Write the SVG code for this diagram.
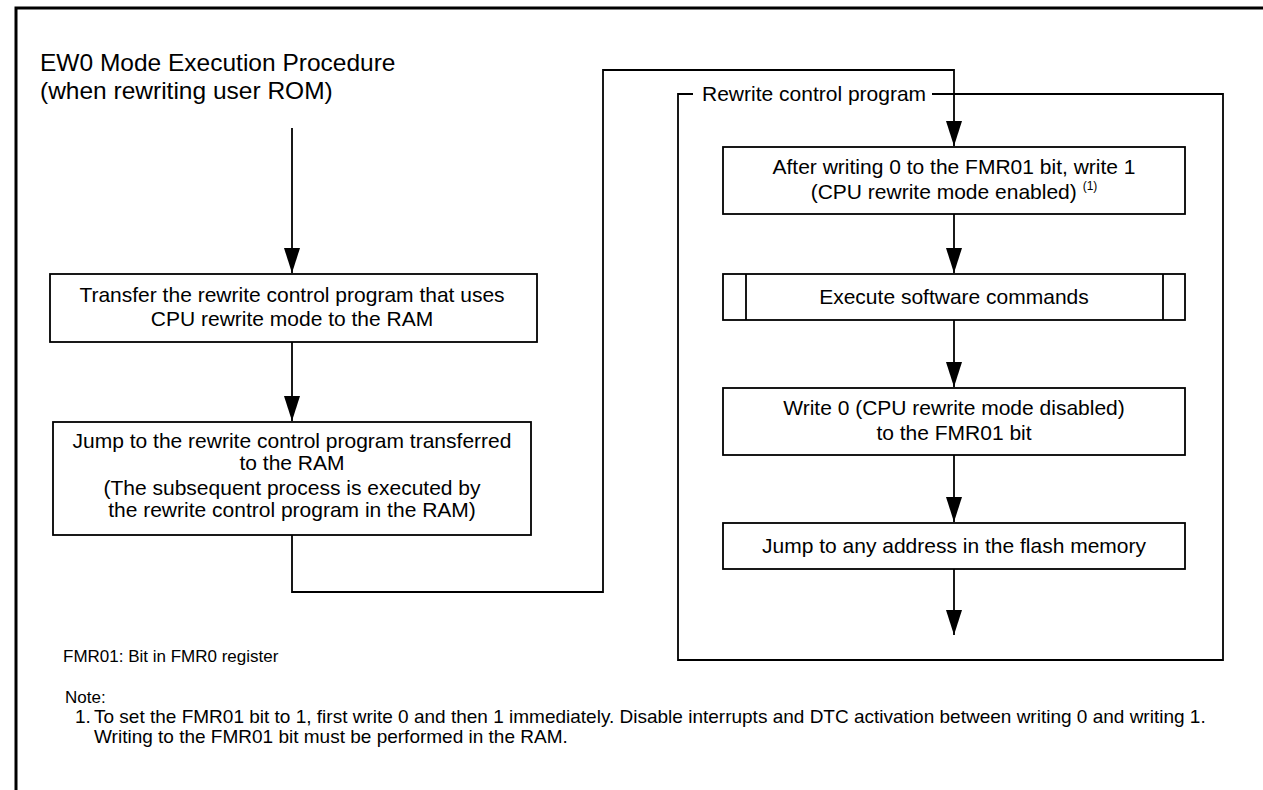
<svg xmlns="http://www.w3.org/2000/svg" width="1263" height="790" viewBox="0 0 1263 790">
<defs>
<marker id="ah" markerUnits="userSpaceOnUse" markerWidth="25" markerHeight="16" refX="25" refY="8" orient="auto" viewBox="0 0 25 16">
<path d="M0,0 L25,8 L0,16 Z" fill="#000"/>
</marker>
</defs>
<style>
text{font-family:"Liberation Sans",Arial,sans-serif;fill:#000}
.box{fill:#fff;stroke:#000;stroke-width:1.8}
.ln{fill:none;stroke:#000;stroke-width:1.8}
.t{font-size:21px;text-anchor:middle}
.n{font-size:17px}
.m{font-size:19px}
</style>
<path d="M16,790 V8 H1263" fill="none" stroke="#000" stroke-width="3"/>
<text x="40" y="71" style="font-size:24.5px">EW0 Mode Execution Procedure</text>
<text x="40" y="99" style="font-size:24.5px">(when rewriting user ROM)</text>
<g id="frame">
<path class="ln" d="M693,94 H678 V660 H1223 V94 H932"/>
<text x="702" y="101" style="font-size:21px">Rewrite control program</text>
</g>
<g id="connectors">
<path class="ln" d="M292,128 V273" marker-end="url(#ah)"/>
<path class="ln" d="M292,342 V421" marker-end="url(#ah)"/>
<path class="ln" d="M292,535 V592 H603 V70 H954 V146" marker-end="url(#ah)"/>
<path class="ln" d="M954,214 V273" marker-end="url(#ah)"/>
<path class="ln" d="M954,320 V387" marker-end="url(#ah)"/>
<path class="ln" d="M954,455 V522" marker-end="url(#ah)"/>
<path class="ln" d="M954,569 V635" marker-end="url(#ah)"/>
</g>
<g id="box1">
<rect class="box" x="50" y="274" width="487" height="68"/>
<text class="t" x="292" y="302">Transfer the rewrite control program that uses</text>
<text class="t" x="292" y="326">CPU rewrite mode to the RAM</text>
</g>
<g id="box2">
<rect class="box" x="53" y="422" width="478" height="113"/>
<text class="t" x="292" y="448">Jump to the rewrite control program transferred</text>
<text class="t" x="292" y="470">to the RAM</text>
<text class="t" x="292" y="495">(The subsequent process is executed by</text>
<text class="t" x="292" y="517">the rewrite control program in the RAM)</text>
</g>
<g id="box3">
<rect class="box" x="723" y="147" width="462" height="67"/>
<text class="t" x="954" y="174">After writing 0 to the FMR01 bit, write 1</text>
<text class="t" x="954" y="199">(CPU rewrite mode enabled) <tspan style="font-size:12px" dy="-9">(1)</tspan></text>
</g>
<g id="box4">
<rect class="box" x="723" y="274" width="462" height="46"/>
<path class="ln" d="M746,274 V320 M1163,274 V320"/>
<text class="t" x="954" y="304">Execute software commands</text>
</g>
<g id="box5">
<rect class="box" x="723" y="388" width="462" height="67"/>
<text class="t" x="954" y="415">Write 0 (CPU rewrite mode disabled)</text>
<text class="t" x="954" y="440">to the FMR01 bit</text>
</g>
<g id="box6">
<rect class="box" x="723" y="523" width="462" height="46"/>
<text class="t" x="954" y="553">Jump to any address in the flash memory</text>
</g>
<g id="notes">
<text class="n" x="63" y="662">FMR01: Bit in FMR0 register</text>
<text class="n" x="65" y="703">Note:</text>
<text class="m" x="75" y="723">1.</text>
<text class="m" x="94" y="723">To set the FMR01 bit to 1, first write 0 and then 1 immediately. Disable interrupts and DTC activation between writing 0 and writing 1.</text>
<text class="m" x="94" y="743">Writing to the FMR01 bit must be performed in the RAM.</text>
</g>
</svg>
